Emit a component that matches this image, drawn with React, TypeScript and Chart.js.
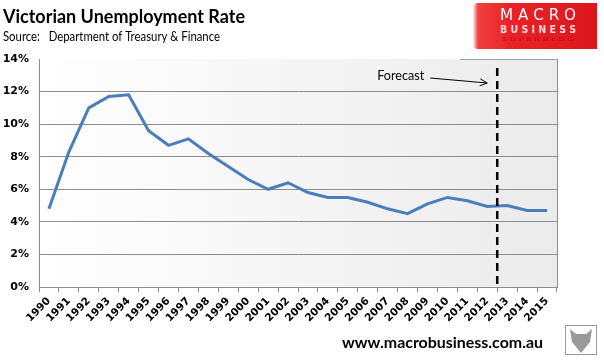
import React, { useEffect, useRef } from "react";
import { Chart, registerables } from "chart.js";

Chart.register(...registerables);

const years: string[] = [
  "1990", "1991", "1992", "1993", "1994", "1995", "1996", "1997", "1998", "1999",
  "2000", "2001", "2002", "2003", "2004", "2005", "2006", "2007", "2008", "2009",
  "2010", "2011", "2012", "2013", "2014", "2015",
];
const unemployment: number[] = [
  4.8, 8.3, 11.0, 11.7, 11.8, 9.6, 8.7, 9.1, 8.2, 7.4,
  6.6, 6.0, 6.4, 5.8, 5.5, 5.5, 5.2, 4.8, 4.5, 5.1,
  5.5, 5.3, 4.95, 5.0, 4.7, 4.7,
];
const forecastAfter = "2012";
const yTicks: number[] = [0, 2, 4, 6, 8, 10, 12, 14];

const TITLE = "Victorian Unemployment Rate";
const SOURCE = "Source:   Department of Treasury & Finance";
const FOOTER = "www.macrobusiness.com.au";
const FONT = "'DejaVu Sans', Verdana, sans-serif";
const TFONT = "Lato, 'Open Sans', sans-serif";

function fitText(ctx: any, text: string, x: number, y: number, width: number) {
  const w = ctx.measureText(text).width;
  ctx.save();
  ctx.textAlign = "left";
  ctx.translate(x, y);
  ctx.scale(width / w, 1);
  ctx.fillText(text, 0, 0);
  ctx.restore();
}

const decor = {
  id: "decor",
  beforeDraw(chart: any) {
    const { ctx, chartArea: a } = chart;
    ctx.save();
    const g = ctx.createLinearGradient(a.left, 0, a.right, 0);
    g.addColorStop(0, "#ffffff");
    g.addColorStop(1, "#ebebeb");
    ctx.fillStyle = g;
    ctx.fillRect(a.left, a.top, a.right - a.left, a.bottom - a.top);
    ctx.restore();
  },
  afterDatasetsDraw(chart: any) {
    const { ctx, chartArea: a, scales } = chart;
    ctx.save();
    ctx.strokeStyle = "#8c8c8c";
    ctx.lineWidth = 1;
    ctx.beginPath();
    ctx.moveTo(Math.round(a.right) + 0.5, a.top);
    ctx.lineTo(Math.round(a.right) + 0.5, a.bottom);
    ctx.stroke();

    const idx = years.indexOf(forecastAfter);
    const x0 = scales.x.getPixelForValue(idx);
    const x1 = scales.x.getPixelForValue(idx + 1);
    const fx = (x0 + x1) / 2;
    ctx.strokeStyle = "#000000";
    ctx.lineWidth = 2.5;
    ctx.setLineDash([8, 5]);
    ctx.beginPath();
    ctx.moveTo(fx, a.top + 9);
    ctx.lineTo(fx, a.bottom);
    ctx.stroke();
    ctx.setLineDash([]);

    ctx.fillStyle = "#000000";
    ctx.font = `13px ${TFONT}`;
    ctx.textBaseline = "middle";
    fitText(ctx, "Forecast", fx - 120, a.top + 17, 47);
    ctx.strokeStyle = "#000000";
    ctx.lineWidth = 1;
    const ax0 = fx - 67, ay0 = a.top + 19;
    const ax1 = fx - 10, ay1 = a.top + 24;
    ctx.beginPath();
    ctx.moveTo(ax0, ay0);
    ctx.lineTo(ax1, ay1);
    ctx.stroke();
    const ang = Math.atan2(ay1 - ay0, ax1 - ax0);
    ctx.beginPath();
    ctx.moveTo(ax1 - 8 * Math.cos(ang - 0.45), ay1 - 8 * Math.sin(ang - 0.45));
    ctx.lineTo(ax1, ay1);
    ctx.lineTo(ax1 - 8 * Math.cos(ang + 0.45), ay1 - 8 * Math.sin(ang + 0.45));
    ctx.stroke();
    ctx.restore();
  },
  afterDraw(chart: any) {
    const { ctx } = chart;
    ctx.save();
    ctx.fillStyle = "#000000";
    ctx.textBaseline = "middle";
    ctx.font = `bold 19px ${TFONT}`;
    fitText(ctx, TITLE, 3, 17, 242);
    ctx.font = `13px ${TFONT}`;
    fitText(ctx, SOURCE, 3, 37, 217);

    // logo
    const lg = ctx.createLinearGradient(473, 0, 597, 0);
    lg.addColorStop(0, "#f5f0f0");
    lg.addColorStop(0.04, "#f04040");
    lg.addColorStop(0.3, "#ea2227");
    lg.addColorStop(1, "#dc161c");
    ctx.fillStyle = lg;
    ctx.beginPath();
    ctx.moveTo(478, 3);
    ctx.lineTo(597, 3);
    ctx.lineTo(597, 49);
    ctx.lineTo(478, 49);
    ctx.quadraticCurveTo(473, 49, 473, 44);
    ctx.lineTo(473, 8);
    ctx.quadraticCurveTo(473, 3, 478, 3);
    ctx.fill();
    ctx.fillStyle = "#ffffff";
    ctx.font = `15px ${FONT}`;
    fitText(ctx, "M A C R O", 500, 16, 76);
    ctx.fillStyle = "#ffd8d8";
    ctx.font = `bold 10px ${FONT}`;
    fitText(ctx, "B U S I N E S S", 500, 30, 76);
    ctx.fillStyle = "#b01014";
    ctx.font = `5px ${FONT}`;
    fitText(ctx, "S U P E R B L O G", 502, 40, 72);
    ctx.strokeStyle = "#a0a0a0";
    ctx.lineWidth = 1;
    ctx.beginPath();
    ctx.moveTo(460, 59.5);
    ctx.lineTo(557, 59.5);
    ctx.stroke();

    // footer
    ctx.fillStyle = "#000000";
    ctx.font = `bold 16px ${TFONT}`;
    fitText(ctx, FOOTER, 342, 343, 201);

    // wolf badge
    ctx.fillStyle = "#ffffff";
    ctx.fillRect(565, 325, 32, 30);
    ctx.strokeStyle = "#999999";
    ctx.strokeRect(565.5, 325.5, 31, 29);
    ctx.fillStyle = "#9a9a9a";
    ctx.beginPath();
    ctx.moveTo(570, 329);
    ctx.lineTo(576, 334);
    ctx.lineTo(586, 334);
    ctx.lineTo(592, 329);
    ctx.lineTo(590, 342);
    ctx.lineTo(581, 353);
    ctx.lineTo(572, 342);
    ctx.closePath();
    ctx.fill();
    ctx.restore();
  },
};

export default function App() {
  const ref = useRef<HTMLCanvasElement | null>(null);
  useEffect(() => {
    document.body.style.margin = "0";
    if (!ref.current) return;
    const chart = new Chart(ref.current, {
      type: "line",
      data: {
        labels: years,
        datasets: [
          {
            data: unemployment,
            borderColor: "#4a7ebb",
            borderWidth: 3,
            pointRadius: 0,
            tension: 0,
            fill: false,
          },
        ],
      },
      options: {
        animation: false,
        responsive: false,
        maintainAspectRatio: false,
        layout: { padding: { left: 0, right: 47, top: 59, bottom: 0 } },
        plugins: { legend: { display: false }, tooltip: { enabled: false }, title: { display: false } },
        scales: {
          x: {
            offset: true,
            afterFit: (s: any) => { s.height = 75; },
            grid: {
              offset: true,
              drawOnChartArea: false,
              drawTicks: true,
              tickLength: 5,
              color: "#8c8c8c",
            },
            border: { color: "#8c8c8c", width: 1 },
            ticks: {
              autoSkip: false,
              maxRotation: 45,
              minRotation: 45,
              color: "#000000",
              padding: 3,
              font: { family: FONT, size: 10.5, weight: "bold" },
            },
          },
          y: {
            min: 0,
            max: 14,
            afterFit: (s: any) => { s.width = 39; },
            afterBuildTicks: (s: any) => { s.ticks = yTicks.map((v) => ({ value: v })); },
            grid: {
              drawTicks: false,
              color: (c: any) => (c.tick && c.tick.value === 14 ? "rgba(0,0,0,0)" : "#8c8c8c"),
            },
            border: { color: "#8c8c8c", width: 1 },
            ticks: {
              padding: 10,
              color: "#000000",
              font: { family: FONT, size: 11, weight: "bold" },
              callback: (v: any) => `${v}%`,
            },
          },
        },
      },
      plugins: [decor],
    });
    return () => chart.destroy();
  }, []);
  return (
    <div style={{ position: "absolute", left: 0, top: 0, width: 604, height: 362, background: "#ffffff" }}>
      <canvas ref={ref} width={604} height={362} style={{ width: 604, height: 362 }} />
    </div>
  );
}
